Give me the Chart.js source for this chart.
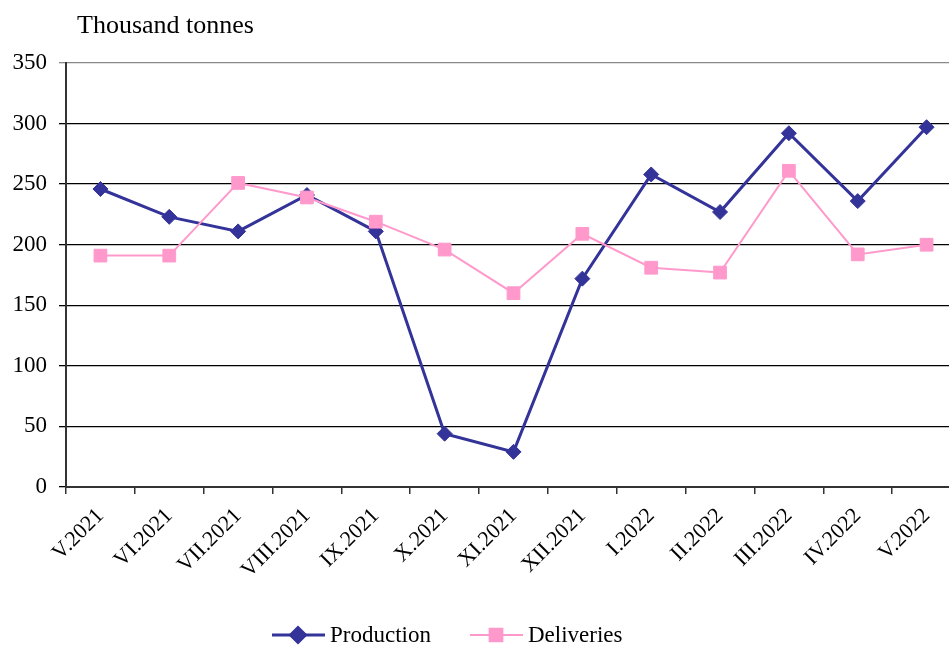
<!DOCTYPE html>
<html>
<head>
<meta charset="utf-8">
<script src="https://cdn.jsdelivr.net/npm/chart.js@4.4.0/dist/chart.umd.min.js"></script>
<style>
  html, body { margin: 0; padding: 0; background: #fff; }
  #wrap { width: 949px; height: 646px; overflow: hidden; }
  canvas { display: block; }
</style>
</head>
<body>
<div id="wrap"><canvas id="myChart" width="971" height="646"></canvas></div>
<script>
// chart data
var months = ['V.2021', 'VI.2021', 'VII.2021', 'VIII.2021', 'IX.2021', 'X.2021', 'XI.2021',
  'XII.2021', 'I.2022', 'II.2022', 'III.2022', 'IV.2022', 'V.2022'];
var production = [246, 223, 211, 241, 211, 44, 29, 172, 258, 227, 292, 236, 297];
var deliveries = [191, 191, 251, 239, 219, 196, 160, 209, 181, 177, 261, 192, 200];
var yTicks = [0, 50, 100, 150, 200, 250, 300, 350];

var serif = '"Liberation Serif", "Times New Roman", serif';

// draws the title at top and the line+marker legend at bottom
var extras = {
  id: 'extras',
  afterDraw: function(chart) {
    var ctx = chart.ctx;
    ctx.save();
    ctx.fillStyle = '#000';
    ctx.font = '26px ' + serif;
    ctx.textBaseline = 'alphabetic';
    ctx.textAlign = 'left';
    ctx.fillText('Thousand tonnes', 77, 33);

    var items = [
      { x: 272, ds: chart.data.datasets[0] },
      { x: 470, ds: chart.data.datasets[1] }
    ];
    var y = 635;
    ctx.font = '23px ' + serif;
    ctx.textBaseline = 'middle';
    items.forEach(function(it) {
      var ds = it.ds;
      ctx.strokeStyle = ds.borderColor;
      ctx.lineWidth = ds.borderWidth;
      ctx.beginPath();
      ctx.moveTo(it.x, y);
      ctx.lineTo(it.x + 53, y);
      ctx.stroke();
      Chart.helpers.drawPoint(ctx, {
        pointStyle: ds.pointStyle,
        radius: ds.pointRadius,
        borderWidth: 1,
        rotation: 0
      }, it.x + 26, y);
      ctx.fillStyle = ds.pointBackgroundColor;
      ctx.strokeStyle = ds.pointBorderColor;
      ctx.lineWidth = 1;
      ctx.fill();
      ctx.stroke();
      ctx.fillStyle = '#000';
      ctx.fillText(ds.label, it.x + 58, y + 1);
    });
    ctx.restore();
  }
};

var ctx = document.getElementById('myChart').getContext('2d');
var myChart = new Chart(ctx, {
  type: 'line',
  data: {
    labels: months,
    datasets: [{
      label: 'Production',
      data: production,
      borderColor: '#333399',
      backgroundColor: '#333399',
      pointBackgroundColor: '#333399',
      pointBorderColor: '#333399',
      pointStyle: 'rectRot',
      pointRadius: 7.5,
      pointBorderWidth: 1,
      borderWidth: 3,
      tension: 0,
      order: 1
    }, {
      label: 'Deliveries',
      data: deliveries,
      borderColor: '#FF99CC',
      backgroundColor: '#FF99CC',
      pointBackgroundColor: '#FF99CC',
      pointBorderColor: '#FF99CC',
      pointStyle: 'rect',
      pointRadius: 9,
      pointBorderWidth: 1,
      borderWidth: 2,
      tension: 0,
      order: 0
    }]
  },
  options: {
    responsive: false,
    animation: false,
    devicePixelRatio: 1,
    layout: { padding: { top: 63, right: 1, left: 0, bottom: 0 } },
    plugins: {
      legend: { display: false },
      tooltip: { enabled: false }
    },
    scales: {
      x: {
        offset: true,
        afterFit: function(scale) { scale.height = 159; },
        grid: {
          offset: true,
          drawOnChartArea: false,
          drawTicks: true,
          tickLength: 7,
          color: '#333',
          lineWidth: 1.5
        },
        border: { color: '#333', width: 2 },
        ticks: {
          autoSkip: false,
          maxRotation: 45,
          minRotation: 45,
          padding: 9,
          color: '#000',
          font: { family: serif, size: 22 }
        }
      },
      y: {
        min: 0,
        max: 350,
        afterFit: function(scale) { scale.width = 66; },
        afterBuildTicks: function(scale) {
          scale.ticks = yTicks.map(function(v) { return { value: v }; });
        },
        grid: {
          color: function(c) { return c.tick && c.tick.value === 350 ? '#888' : '#000'; },
          lineWidth: 1.3,
          tickLength: 7
        },
        border: { color: '#333', width: 2 },
        ticks: {
          padding: 12,
          color: '#000',
          font: { family: serif, size: 23 }
        }
      }
    }
  },
  plugins: [extras]
});
</script>
</body>
</html>
